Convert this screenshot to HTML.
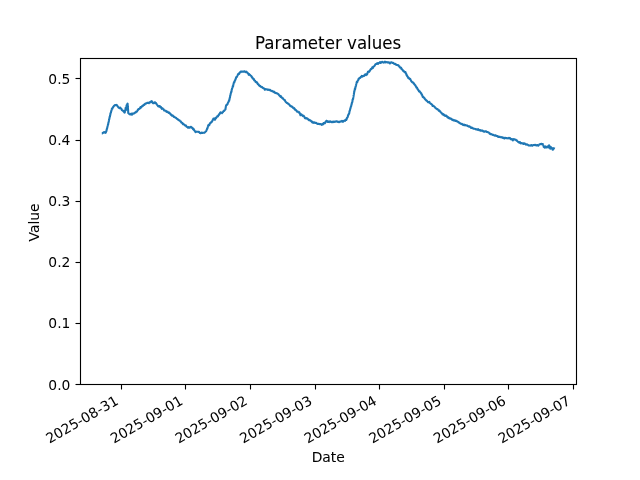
<!DOCTYPE html>
<html lang="en">
<head>
<meta charset="utf-8">
<title>Parameter values</title>
<style>
html,body{margin:0;padding:0;background:#fff;}
body{width:640px;height:480px;overflow:hidden;}
svg{display:block;}
text{font-family:'DejaVu Sans', 'Liberation Sans', sans-serif;fill:#000;stroke:#000;stroke-width:0.06px;}
.t10{font-size:13.889px;}
.t12{font-size:16.667px;}
.xt{stroke-width:0.022px;}
.yt{stroke:none;}
.ax{stroke:#000;stroke-width:1.111;fill:none;}
</style>
</head>
<body>
<svg width="640" height="480" viewBox="0 0 640 480">
<rect x="0" y="0" width="640" height="480" fill="#ffffff"/>
<g id="xticks">
<line class="ax" x1="121.5" y1="384.5" x2="121.5" y2="389.5"/>
<text class="t10 xt" transform="translate(49.45 443.82) rotate(-30)">2025-08-31</text>
<line class="ax" x1="185.5" y1="384.5" x2="185.5" y2="389.5"/>
<text class="t10 xt" transform="translate(114.05 443.82) rotate(-30)">2025-09-01</text>
<line class="ax" x1="250.5" y1="384.5" x2="250.5" y2="389.5"/>
<text class="t10 xt" transform="translate(178.65 443.82) rotate(-30)">2025-09-02</text>
<line class="ax" x1="315.5" y1="384.5" x2="315.5" y2="389.5"/>
<text class="t10 xt" transform="translate(243.25 443.82) rotate(-30)">2025-09-03</text>
<line class="ax" x1="379.5" y1="384.5" x2="379.5" y2="389.5"/>
<text class="t10 xt" transform="translate(307.85 443.82) rotate(-30)">2025-09-04</text>
<line class="ax" x1="444.5" y1="384.5" x2="444.5" y2="389.5"/>
<text class="t10 xt" transform="translate(372.45 443.82) rotate(-30)">2025-09-05</text>
<line class="ax" x1="508.5" y1="384.5" x2="508.5" y2="389.5"/>
<text class="t10 xt" transform="translate(437.05 443.82) rotate(-30)">2025-09-06</text>
<line class="ax" x1="573.5" y1="384.5" x2="573.5" y2="389.5"/>
<text class="t10 xt" transform="translate(501.65 443.82) rotate(-30)">2025-09-07</text>
</g>
<g id="yticks">
<line class="ax" x1="75.5" y1="384.5" x2="80.5" y2="384.5"/>
<text class="t10 yt" text-anchor="end" x="70.43" y="390">0.0</text>
<line class="ax" x1="75.5" y1="323.5" x2="80.5" y2="323.5"/>
<text class="t10 yt" text-anchor="end" x="70.43" y="328">0.1</text>
<line class="ax" x1="75.5" y1="262.5" x2="80.5" y2="262.5"/>
<text class="t10 yt" text-anchor="end" x="70.43" y="267">0.2</text>
<line class="ax" x1="75.5" y1="201.5" x2="80.5" y2="201.5"/>
<text class="t10 yt" text-anchor="end" x="70.43" y="206">0.3</text>
<line class="ax" x1="75.5" y1="140.5" x2="80.5" y2="140.5"/>
<text class="t10 yt" text-anchor="end" x="70.43" y="145">0.4</text>
<line class="ax" x1="75.5" y1="78.5" x2="80.5" y2="78.5"/>
<text class="t10 yt" text-anchor="end" x="70.43" y="84">0.5</text>
</g>
<path id="series" d="M101.80 133.50 L102.10 133.49 L102.39 133.26 L102.69 133.03 L102.91 132.80 L103.13 132.65 L103.35 132.81 L103.56 132.82 L103.78 132.29 L103.99 131.95 L104.20 131.99 L104.44 132.25 L104.68 132.21 L104.92 132.21 L105.16 132.59 L105.39 132.82 L105.62 132.69 L105.82 132.56 L105.91 132.09 L105.99 131.71 L106.08 131.56 L106.17 131.48 L106.25 131.33 L106.34 131.29 L106.43 131.12 L106.51 130.44 L106.60 129.77 L106.67 129.74 L106.74 129.85 L106.80 129.45 L106.87 128.90 L106.94 128.60 L107.01 128.33 L107.07 128.26 L107.14 128.22 L107.21 127.79 L107.28 127.58 L107.34 127.43 L107.41 126.94 L107.48 126.61 L107.55 126.43 L107.62 125.99 L107.68 125.53 L107.75 125.57 L107.82 125.40 L107.89 124.84 L107.96 124.69 L108.03 124.42 L108.10 124.18 L108.17 124.30 L108.24 123.78 L108.31 123.00 L108.38 122.84 L108.44 122.74 L108.51 122.43 L108.58 122.17 L108.65 121.89 L108.72 121.78 L108.78 121.51 L108.85 120.89 L108.92 120.47 L108.99 120.20 L109.06 119.80 L109.12 119.33 L109.19 119.07 L109.26 119.09 L109.33 119.16 L109.40 118.76 L109.46 117.94 L109.53 117.65 L109.60 117.45 L109.67 116.87 L109.73 116.68 L109.80 116.84 L109.87 116.87 L109.94 116.47 L110.00 115.85 L110.07 115.43 L110.14 115.39 L110.20 115.31 L110.27 114.77 L110.35 114.34 L110.42 114.17 L110.50 113.84 L110.57 113.35 L110.65 112.96 L110.73 112.78 L110.80 112.72 L110.88 112.72 L110.96 112.42 L111.03 111.98 L111.11 111.65 L111.19 111.37 L111.27 111.17 L111.38 110.88 L111.49 110.38 L111.61 109.91 L111.72 109.55 L111.83 108.92 L111.94 108.51 L112.06 108.55 L112.17 108.48 L112.28 108.66 L112.43 108.67 L112.59 107.93 L112.74 107.44 L112.90 107.45 L113.06 107.29 L113.21 106.90 L113.37 106.67 L113.57 106.65 L113.78 106.31 L113.99 105.80 L114.21 105.65 L114.42 105.45 L114.67 105.20 L114.95 105.13 L115.22 105.13 L115.50 105.23 L115.77 105.14 L116.02 104.98 L116.25 105.05 L116.48 105.04 L116.71 104.93 L116.93 105.29 L117.16 105.66 L117.38 105.80 L117.58 106.13 L117.78 106.39 L117.98 106.72 L118.18 107.06 L118.39 107.41 L118.59 107.46 L118.81 107.49 L119.11 108.00 L119.41 108.21 L119.71 107.83 L120.01 107.60 L120.27 107.59 L120.45 107.89 L120.63 108.35 L120.82 108.49 L121.00 108.55 L121.19 108.68 L121.37 108.79 L121.56 109.20 L121.76 109.80 L121.96 110.13 L122.17 110.33 L122.38 110.36 L122.58 110.32 L122.79 110.51 L122.99 110.79 L123.20 111.07 L123.41 111.28 L123.62 111.32 L123.83 111.34 L124.04 111.87 L124.26 112.49 L124.47 112.37 L124.68 112.37 L124.75 112.56 L124.81 112.35 L124.86 111.63 L124.92 111.23 L124.98 110.84 L125.03 110.53 L125.09 110.62 L125.15 110.47 L125.20 110.00 L125.26 109.66 L125.32 109.44 L125.37 109.09 L125.43 108.65 L125.48 108.15 L125.54 108.03 L125.60 108.13 L125.64 108.36 L125.68 108.59 L125.71 108.85 L125.75 109.00 L125.79 109.37 L125.83 109.83 L125.87 110.05 L125.91 110.16 L125.95 110.07 L125.99 110.03 L126.03 109.71 L126.07 109.16 L126.11 108.48 L126.16 108.15 L126.20 108.34 L126.24 108.20 L126.28 107.71 L126.32 107.48 L126.36 107.34 L126.40 107.09 L126.44 106.65 L126.48 106.27 L126.52 105.94 L126.57 105.46 L126.61 105.30 L126.65 105.23 L126.69 105.11 L126.89 105.17 L127.15 104.72 L127.41 103.79 L127.61 103.61 L127.63 104.25 L127.65 104.53 L127.68 104.95 L127.70 105.28 L127.72 105.00 L127.75 105.17 L127.77 105.98 L127.79 106.49 L127.82 106.72 L127.84 106.94 L127.86 106.97 L127.89 107.16 L127.91 107.61 L127.93 107.79 L127.96 108.09 L127.98 108.78 L128.00 109.27 L128.03 109.44 L128.05 109.48 L128.07 109.65 L128.09 109.92 L128.11 110.34 L128.13 110.80 L128.15 111.13 L128.17 111.60 L128.19 112.25 L128.21 112.54 L128.23 112.48 L128.26 112.80 L128.28 113.15 L128.30 113.16 L128.53 113.08 L128.80 113.43 L129.08 113.88 L129.35 113.98 L129.62 113.99 L129.89 114.23 L130.16 114.53 L130.43 114.28 L130.70 113.90 L130.96 113.98 L131.23 113.82 L131.49 113.69 L131.71 114.25 L131.94 114.71 L132.17 114.27 L132.40 113.64 L132.62 113.61 L132.86 113.86 L133.14 113.74 L133.41 113.46 L133.69 113.32 L133.97 113.31 L134.24 113.36 L134.52 113.23 L134.79 112.84 L135.07 112.56 L135.35 112.52 L135.62 112.51 L135.82 112.29 L136.02 111.84 L136.23 111.63 L136.43 111.41 L136.63 111.26 L136.84 111.61 L137.04 111.47 L137.24 110.89 L137.45 110.68 L137.65 110.14 L137.85 109.48 L138.06 109.57 L138.28 109.66 L138.49 109.30 L138.71 108.92 L138.93 108.79 L139.14 108.88 L139.36 108.92 L139.58 108.62 L139.80 108.42 L140.01 108.29 L140.23 107.77 L140.45 107.17 L140.68 107.06 L140.91 107.47 L141.14 107.54 L141.36 107.23 L141.59 106.89 L141.82 106.54 L142.05 106.24 L142.28 105.94 L142.50 105.74 L142.73 105.80 L142.96 105.88 L143.20 105.56 L143.45 105.06 L143.70 104.68 L143.95 104.72 L144.21 104.98 L144.46 104.77 L144.71 104.30 L144.96 103.88 L145.21 103.61 L145.47 103.73 L145.72 103.78 L145.98 103.46 L146.27 103.27 L146.57 103.27 L146.86 103.06 L147.15 102.77 L147.44 102.75 L147.73 102.92 L148.02 103.00 L148.31 102.90 L148.60 103.08 L148.88 103.15 L149.15 102.64 L149.42 102.30 L149.69 102.31 L149.96 102.10 L150.23 101.88 L150.50 102.19 L150.77 102.34 L151.04 101.84 L151.31 101.33 L151.58 101.16 L151.80 101.38 L152.02 101.38 L152.24 101.72 L152.46 102.27 L152.68 102.47 L152.90 102.96 L153.16 103.25 L153.46 103.01 L153.76 103.09 L154.06 103.19 L154.36 102.76 L154.66 102.28 L154.96 102.20 L155.26 102.63 L155.47 103.30 L155.66 103.34 L155.85 103.04 L156.04 103.09 L156.24 103.52 L156.43 103.94 L156.62 104.20 L156.81 104.48 L157.00 104.71 L157.20 104.83 L157.39 105.08 L157.58 105.37 L157.77 105.64 L158.02 106.08 L158.28 106.49 L158.54 106.42 L158.80 106.05 L159.07 105.95 L159.33 106.11 L159.59 106.00 L159.85 106.27 L160.11 107.05 L160.37 107.34 L160.63 107.05 L160.86 106.91 L161.10 107.19 L161.33 107.64 L161.57 108.32 L161.80 108.83 L162.04 108.57 L162.28 108.20 L162.51 108.30 L162.75 108.70 L162.98 108.88 L163.22 108.96 L163.46 109.18 L163.69 109.49 L163.93 110.08 L164.17 110.54 L164.41 110.53 L164.64 110.44 L164.88 110.60 L165.12 110.71 L165.36 110.75 L165.59 110.79 L165.83 110.72 L166.07 111.03 L166.32 111.62 L166.59 111.82 L166.87 112.02 L167.14 112.04 L167.42 111.68 L167.70 111.81 L167.97 112.32 L168.25 112.52 L168.53 112.64 L168.80 112.91 L169.08 112.82 L169.31 112.58 L169.54 112.89 L169.76 113.52 L169.99 113.55 L170.22 113.52 L170.44 114.14 L170.67 114.66 L170.90 114.73 L171.12 114.59 L171.35 114.49 L171.58 114.94 L171.82 115.61 L172.05 115.79 L172.29 115.80 L172.52 115.74 L172.76 115.62 L173.00 115.61 L173.23 116.06 L173.47 116.47 L173.70 116.56 L173.94 116.96 L174.17 117.07 L174.41 116.89 L174.64 117.04 L174.89 117.34 L175.14 117.56 L175.39 117.62 L175.63 117.72 L175.88 117.89 L176.13 117.91 L176.38 118.08 L176.63 118.64 L176.88 118.90 L177.12 118.77 L177.37 118.94 L177.63 119.08 L177.89 119.30 L178.15 119.69 L178.41 119.98 L178.67 120.18 L178.93 120.15 L179.19 120.23 L179.46 120.30 L179.72 120.41 L179.93 120.79 L180.13 121.09 L180.33 121.33 L180.53 121.36 L180.73 121.36 L180.92 121.72 L181.12 122.23 L181.32 122.47 L181.52 122.44 L181.72 122.44 L181.91 122.65 L182.11 123.04 L182.31 123.04 L182.51 123.08 L182.71 123.80 L182.96 124.16 L183.20 123.86 L183.45 123.85 L183.70 124.12 L183.94 124.42 L184.19 124.78 L184.44 124.85 L184.69 125.05 L184.93 125.40 L185.18 125.54 L185.43 125.67 L185.68 125.60 L185.92 125.45 L186.18 125.89 L186.44 126.62 L186.70 126.76 L186.95 126.75 L187.21 126.93 L187.47 127.08 L187.73 127.46 L187.98 127.70 L188.24 127.28 L188.50 127.00 L188.76 127.18 L189.05 127.36 L189.35 127.80 L189.64 127.79 L189.93 127.23 L190.23 126.97 L190.52 127.33 L190.81 127.31 L191.10 126.83 L191.34 127.13 L191.58 127.59 L191.82 127.84 L192.06 127.85 L192.30 127.81 L192.54 127.85 L192.77 128.32 L193.01 129.09 L193.19 129.33 L193.37 129.13 L193.56 128.97 L193.74 129.08 L193.92 129.61 L194.10 130.12 L194.29 130.39 L194.47 130.49 L194.65 130.60 L194.85 130.96 L195.12 131.40 L195.39 131.94 L195.66 132.13 L195.94 131.74 L196.21 131.55 L196.48 131.70 L196.75 131.74 L197.05 131.68 L197.35 131.67 L197.65 131.68 L197.94 131.84 L198.24 131.88 L198.54 131.79 L198.77 131.81 L198.98 131.80 L199.20 131.97 L199.41 132.29 L199.63 132.61 L199.84 132.95 L200.06 133.03 L200.27 133.04 L200.49 133.26 L200.77 133.10 L201.06 133.05 L201.34 132.90 L201.62 132.67 L201.91 132.91 L202.19 133.07 L202.49 132.93 L202.79 132.83 L203.09 132.73 L203.39 132.67 L203.69 132.74 L203.99 132.84 L204.26 132.74 L204.48 132.47 L204.70 132.45 L204.92 132.37 L205.14 132.04 L205.35 131.85 L205.57 131.58 L205.79 131.20 L206.01 131.23 L206.17 131.20 L206.29 130.92 L206.41 130.55 L206.53 130.07 L206.66 129.88 L206.78 129.86 L206.90 129.61 L207.01 129.04 L207.12 128.55 L207.23 128.65 L207.34 128.78 L207.45 128.44 L207.56 127.71 L207.67 127.20 L207.78 127.19 L207.89 126.65 L208.00 126.00 L208.11 125.92 L208.22 125.56 L208.33 125.17 L208.47 125.35 L208.66 125.47 L208.84 125.14 L209.03 125.04 L209.21 125.24 L209.40 124.94 L209.58 124.24 L209.77 123.62 L209.95 123.18 L210.14 123.10 L210.32 123.22 L210.51 123.08 L210.70 122.89 L210.90 122.63 L211.10 122.16 L211.30 121.99 L211.49 122.04 L211.69 121.93 L211.89 121.73 L212.09 121.30 L212.29 120.90 L212.49 120.58 L212.68 120.02 L212.85 119.72 L212.97 119.84 L213.09 119.73 L213.20 119.21 L213.32 118.65 L213.49 118.56 L213.77 118.75 L214.04 118.60 L214.32 118.58 L214.59 119.16 L214.87 119.77 L215.07 119.60 L215.21 119.09 L215.35 118.95 L215.49 118.50 L215.63 117.78 L215.76 117.82 L215.90 118.07 L216.04 118.06 L216.18 117.99 L216.36 117.64 L216.59 117.17 L216.82 116.93 L217.04 116.68 L217.27 116.28 L217.50 116.16 L217.72 116.40 L217.95 116.32 L218.16 115.72 L218.35 115.28 L218.53 115.26 L218.72 115.17 L218.91 114.92 L219.09 114.59 L219.28 114.02 L219.46 113.67 L219.65 113.66 L219.83 113.70 L220.02 113.33 L220.20 112.56 L220.44 112.42 L220.74 112.69 L221.04 112.48 L221.34 112.46 L221.64 112.93 L221.93 113.09 L222.16 112.71 L222.39 112.46 L222.62 112.36 L222.85 112.21 L223.08 111.94 L223.31 111.42 L223.54 111.12 L223.77 111.08 L223.96 110.93 L224.15 110.88 L224.35 110.57 L224.54 110.12 L224.73 109.94 L224.92 109.88 L225.12 109.73 L225.30 109.29 L225.36 109.05 L225.42 109.33 L225.47 109.47 L225.53 109.00 L225.58 108.21 L225.64 107.87 L225.70 107.72 L225.75 107.07 L225.81 106.48 L225.86 106.40 L225.96 106.19 L226.14 105.56 L226.32 104.98 L226.50 104.95 L226.68 105.09 L226.86 104.83 L227.04 104.61 L227.22 104.59 L227.40 104.38 L227.55 104.04 L227.68 103.68 L227.80 103.23 L227.93 102.83 L228.05 102.73 L228.18 102.77 L228.30 102.39 L228.43 101.84 L228.55 101.59 L228.68 101.52 L228.80 101.20 L228.93 100.54 L229.05 100.20 L229.14 100.52 L229.21 100.85 L229.27 100.39 L229.34 99.73 L229.40 99.68 L229.47 99.54 L229.53 98.82 L229.60 98.41 L229.67 98.41 L229.73 98.15 L229.80 97.67 L229.86 97.40 L229.93 97.55 L230.00 97.37 L230.07 96.78 L230.15 96.03 L230.23 95.40 L230.31 95.34 L230.39 95.26 L230.47 95.05 L230.54 94.78 L230.62 94.09 L230.70 93.59 L230.78 93.51 L230.86 93.25 L230.94 92.89 L231.02 92.62 L231.09 92.11 L231.17 91.80 L231.25 92.03 L231.33 92.06 L231.41 91.97 L231.49 91.76 L231.57 90.86 L231.65 89.97 L231.72 89.64 L231.80 89.48 L231.88 89.40 L231.96 89.09 L232.05 88.64 L232.13 88.45 L232.21 88.22 L232.30 88.10 L232.38 87.91 L232.46 87.55 L232.55 87.24 L232.63 86.85 L232.71 86.35 L232.80 85.99 L232.88 86.22 L232.96 86.64 L233.05 86.54 L233.13 86.02 L233.21 85.32 L233.30 84.87 L233.38 84.76 L233.46 84.35 L233.55 83.84 L233.63 83.55 L233.71 83.26 L233.82 82.94 L233.94 82.56 L234.06 82.17 L234.18 82.28 L234.30 82.47 L234.42 81.92 L234.54 81.40 L234.66 81.32 L234.78 80.96 L234.90 80.36 L235.02 80.22 L235.14 80.27 L235.26 79.95 L235.38 79.74 L235.50 79.53 L235.62 78.96 L235.74 78.52 L235.86 78.45 L235.99 78.17 L236.11 77.44 L236.23 77.07 L236.38 77.16 L236.55 77.23 L236.72 77.21 L236.88 76.78 L237.05 76.17 L237.22 76.01 L237.38 75.74 L237.55 75.42 L237.71 75.24 L237.88 74.63 L238.05 74.11 L238.21 74.01 L238.38 73.80 L238.55 73.75 L238.71 73.86 L238.93 73.93 L239.17 73.84 L239.41 73.19 L239.64 72.54 L239.88 72.37 L240.12 72.20 L240.35 72.13 L240.59 72.19 L240.83 71.77 L241.06 71.45 L241.31 71.69 L241.60 71.81 L241.89 71.71 L242.18 71.69 L242.46 71.63 L242.75 71.62 L243.04 71.68 L243.34 71.69 L243.63 71.64 L243.92 71.47 L244.22 71.22 L244.51 71.37 L244.79 71.67 L245.08 71.66 L245.36 71.80 L245.65 72.25 L245.93 72.17 L246.22 71.67 L246.51 71.65 L246.79 72.07 L247.04 72.38 L247.26 72.54 L247.48 72.78 L247.71 73.05 L247.93 73.30 L248.15 73.41 L248.37 73.75 L248.60 74.50 L248.82 74.78 L249.04 74.35 L249.26 74.18 L249.49 74.56 L249.71 74.88 L249.93 74.89 L250.14 75.08 L250.34 75.39 L250.54 75.43 L250.74 75.60 L250.94 75.74 L251.14 75.70 L251.34 76.01 L251.54 76.65 L251.74 77.11 L251.94 77.12 L252.14 77.06 L252.34 77.58 L252.54 78.26 L252.74 78.50 L252.94 78.43 L253.14 78.56 L253.34 78.91 L253.54 78.95 L253.74 78.91 L253.94 79.44 L254.15 80.12 L254.35 80.43 L254.56 80.52 L254.76 80.62 L254.97 80.80 L255.17 80.86 L255.38 81.33 L255.58 82.06 L255.79 82.02 L255.99 81.75 L256.20 81.97 L256.40 82.45 L256.61 82.73 L256.81 82.48 L257.02 82.35 L257.22 82.82 L257.43 83.31 L257.64 83.73 L257.86 84.13 L258.07 84.30 L258.29 84.27 L258.50 84.30 L258.72 84.93 L258.93 85.53 L259.15 85.49 L259.37 85.39 L259.58 85.71 L259.80 85.98 L260.01 85.81 L260.23 85.95 L260.44 86.44 L260.67 86.64 L260.92 86.63 L261.17 86.77 L261.42 86.93 L261.67 87.09 L261.92 87.11 L262.17 87.14 L262.42 87.57 L262.67 87.87 L262.91 87.78 L263.16 88.01 L263.41 88.28 L263.66 88.28 L263.94 88.32 L264.23 88.51 L264.52 89.13 L264.82 89.74 L265.11 89.60 L265.40 89.19 L265.69 89.14 L265.98 89.17 L266.27 89.34 L266.57 89.41 L266.86 89.24 L267.15 89.41 L267.44 89.69 L267.73 89.85 L268.01 89.71 L268.30 89.54 L268.59 89.83 L268.87 90.06 L269.16 90.09 L269.44 90.08 L269.73 89.77 L270.01 89.71 L270.30 90.34 L270.59 90.70 L270.87 90.61 L271.16 90.74 L271.43 90.90 L271.70 90.75 L271.97 90.70 L272.23 91.11 L272.50 91.34 L272.77 91.32 L273.04 91.55 L273.30 91.49 L273.57 91.58 L273.84 92.08 L274.11 92.02 L274.37 91.80 L274.64 92.18 L274.91 92.80 L275.18 92.96 L275.44 92.82 L275.71 93.00 L275.98 93.15 L276.25 93.10 L276.51 93.27 L276.78 93.37 L277.05 93.34 L277.32 93.49 L277.59 93.77 L277.85 93.89 L278.12 93.89 L278.39 94.18 L278.66 94.61 L278.89 94.84 L279.10 95.15 L279.32 95.45 L279.53 95.76 L279.74 95.92 L279.96 95.77 L280.17 95.86 L280.38 96.27 L280.60 96.87 L280.81 96.85 L281.02 96.24 L281.24 96.45 L281.45 97.21 L281.66 97.65 L281.88 97.76 L282.09 97.83 L282.31 98.10 L282.52 98.33 L282.72 98.53 L282.92 98.53 L283.13 98.42 L283.33 98.75 L283.53 99.17 L283.73 99.53 L283.94 99.62 L284.14 99.68 L284.34 99.98 L284.54 100.03 L284.75 100.01 L284.95 100.26 L285.15 100.85 L285.35 101.47 L285.55 101.74 L285.76 101.89 L285.96 102.13 L286.16 102.23 L286.38 102.36 L286.62 102.76 L286.85 102.98 L287.09 102.89 L287.32 102.93 L287.55 103.18 L287.79 103.32 L288.02 103.53 L288.26 103.90 L288.49 104.08 L288.73 104.14 L288.96 104.26 L289.19 104.59 L289.43 104.83 L289.66 105.13 L289.90 105.62 L290.12 105.89 L290.35 106.13 L290.57 106.10 L290.79 105.82 L291.01 105.99 L291.24 106.39 L291.46 106.60 L291.68 106.71 L291.90 106.63 L292.12 106.60 L292.35 106.76 L292.57 106.99 L292.79 107.45 L293.01 107.70 L293.24 107.83 L293.46 108.22 L293.68 108.40 L293.91 108.18 L294.15 108.15 L294.39 108.34 L294.62 108.50 L294.86 109.16 L295.10 109.79 L295.34 109.84 L295.57 109.87 L295.81 109.97 L296.05 110.24 L296.29 110.51 L296.52 110.76 L296.76 111.29 L297.00 111.65 L297.24 111.58 L297.47 111.41 L297.73 111.48 L297.99 111.78 L298.25 112.05 L298.51 112.26 L298.77 112.55 L299.03 112.57 L299.29 112.22 L299.47 112.54 L299.59 113.17 L299.71 113.23 L299.83 113.30 L299.96 113.51 L300.08 113.76 L300.20 114.56 L300.49 115.23 L300.79 114.97 L301.08 114.32 L301.35 114.27 L301.59 114.78 L301.83 115.15 L302.07 115.06 L302.30 115.25 L302.54 115.84 L302.78 116.07 L303.02 115.84 L303.25 115.62 L303.49 115.71 L303.73 115.86 L303.96 116.14 L304.20 116.71 L304.44 117.06 L304.68 117.53 L304.91 118.12 L305.16 117.99 L305.41 117.73 L305.67 118.15 L305.92 118.40 L306.17 118.09 L306.42 118.06 L306.68 118.22 L306.93 118.50 L307.18 118.76 L307.43 118.50 L307.69 118.60 L307.94 119.14 L308.19 119.47 L308.45 119.75 L308.70 119.93 L308.96 120.13 L309.23 120.13 L309.50 119.88 L309.77 120.05 L310.03 120.39 L310.30 120.66 L310.57 120.78 L310.84 120.67 L311.10 120.92 L311.37 121.39 L311.64 121.47 L311.91 121.63 L312.17 122.36 L312.44 122.43 L312.72 121.85 L313.00 122.21 L313.27 122.88 L313.55 122.77 L313.83 122.46 L314.11 122.35 L314.39 122.37 L314.67 122.47 L314.95 122.71 L315.22 122.96 L315.50 122.94 L315.78 122.80 L316.06 122.86 L316.34 123.04 L316.64 123.13 L316.93 123.42 L317.22 123.80 L317.52 123.86 L317.81 123.85 L318.10 123.86 L318.40 123.80 L318.69 123.76 L318.98 123.89 L319.28 123.96 L319.57 124.00 L319.86 124.28 L320.15 124.24 L320.44 124.00 L320.72 124.05 L321.00 124.24 L321.29 124.41 L321.57 124.63 L321.85 124.84 L322.14 124.50 L322.39 124.04 L322.59 123.86 L322.80 123.77 L323.01 124.03 L323.22 124.29 L323.42 123.85 L323.63 123.15 L323.84 123.15 L324.05 123.47 L324.25 123.16 L324.46 122.82 L324.69 123.03 L324.93 123.19 L325.17 122.75 L325.41 122.15 L325.65 121.91 L325.89 121.67 L326.13 121.15 L326.36 120.84 L326.60 120.76 L326.89 120.86 L327.17 121.07 L327.45 121.61 L327.74 121.89 L328.02 121.56 L328.30 121.43 L328.59 121.69 L328.87 122.01 L329.17 122.09 L329.46 121.77 L329.76 121.42 L330.06 121.29 L330.36 121.59 L330.66 122.02 L330.96 121.98 L331.25 121.76 L331.55 121.88 L331.85 122.15 L332.15 122.22 L332.45 122.08 L332.74 121.80 L333.04 121.49 L333.34 121.77 L333.64 122.04 L333.93 121.62 L334.23 121.63 L334.53 121.89 L334.83 121.72 L335.12 121.59 L335.42 121.69 L335.72 121.75 L336.01 121.47 L336.31 121.19 L336.61 121.30 L336.91 121.36 L337.21 121.43 L337.51 121.70 L337.81 121.92 L338.11 121.85 L338.41 121.69 L338.71 121.89 L339.01 122.11 L339.31 122.15 L339.61 122.00 L339.91 121.62 L340.21 121.54 L340.51 121.51 L340.81 121.28 L341.11 121.31 L341.41 121.35 L341.71 121.12 L342.01 120.90 L342.31 121.05 L342.61 121.49 L342.91 121.85 L343.19 121.79 L343.43 121.34 L343.67 120.92 L343.91 120.72 L344.16 120.70 L344.40 120.62 L344.64 120.72 L344.92 120.83 L345.22 120.36 L345.51 119.87 L345.81 119.79 L346.04 119.67 L346.16 119.70 L346.28 119.95 L346.39 119.50 L346.51 118.92 L346.63 119.05 L346.74 118.99 L346.86 118.34 L346.98 117.82 L347.09 117.67 L347.21 117.64 L347.32 117.60 L347.44 117.51 L347.56 117.31 L347.68 117.05 L347.80 116.73 L347.92 116.02 L348.04 115.28 L348.16 115.14 L348.29 115.07 L348.41 114.84 L348.53 114.64 L348.65 114.14 L348.77 113.86 L348.90 114.02 L349.02 113.79 L349.14 113.39 L349.24 113.25 L349.32 112.99 L349.39 112.18 L349.47 111.32 L349.55 111.16 L349.63 111.08 L349.70 110.83 L349.78 110.90 L349.86 110.80 L349.94 110.13 L350.02 109.86 L350.09 109.98 L350.17 109.36 L350.25 108.75 L350.33 108.76 L350.40 108.56 L350.48 108.19 L350.56 107.98 L350.64 107.50 L350.71 107.08 L350.79 107.09 L350.87 106.91 L350.95 106.46 L351.03 106.18 L351.11 106.28 L351.19 106.23 L351.26 105.68 L351.34 105.29 L351.42 104.89 L351.50 104.51 L351.58 104.44 L351.66 104.35 L351.73 104.06 L351.81 103.46 L351.89 102.83 L351.97 102.57 L352.05 102.56 L352.13 102.53 L352.21 102.33 L352.28 101.98 L352.36 101.78 L352.43 101.52 L352.50 100.73 L352.58 99.89 L352.65 99.43 L352.72 99.50 L352.79 99.63 L352.87 99.37 L352.94 99.22 L353.01 99.17 L353.09 98.99 L353.16 98.52 L353.23 97.85 L353.30 97.43 L353.35 97.21 L353.41 96.88 L353.46 96.48 L353.51 96.43 L353.56 96.19 L353.61 95.52 L353.66 95.15 L353.71 94.95 L353.76 94.86 L353.82 94.76 L353.87 94.42 L353.92 93.92 L353.97 93.48 L354.02 93.35 L354.07 93.12 L354.12 92.86 L354.17 92.26 L354.23 91.44 L354.28 91.38 L354.33 91.73 L354.38 91.73 L354.43 91.28 L354.48 90.61 L354.53 90.25 L354.58 90.51 L354.66 90.45 L354.75 89.72 L354.83 88.97 L354.92 88.62 L355.01 89.02 L355.09 89.25 L355.18 88.76 L355.27 88.27 L355.35 87.68 L355.44 87.21 L355.53 86.99 L355.62 86.47 L355.70 86.18 L355.79 86.23 L355.88 86.10 L355.96 85.76 L356.05 85.26 L356.14 84.62 L356.22 84.22 L356.31 84.11 L356.40 83.72 L356.48 83.19 L356.57 82.94 L356.66 82.68 L356.74 82.21 L356.83 81.84 L356.93 81.78 L357.07 81.97 L357.22 82.20 L357.36 81.92 L357.50 81.08 L357.65 80.78 L357.79 80.88 L357.93 80.52 L358.08 80.34 L358.22 80.32 L358.36 79.69 L358.51 78.94 L358.65 78.74 L358.82 78.89 L359.04 78.68 L359.27 78.10 L359.49 77.98 L359.71 78.22 L359.93 78.07 L360.16 77.72 L360.38 77.68 L360.60 77.33 L360.83 76.71 L361.05 76.68 L361.28 76.73 L361.55 76.25 L361.82 75.84 L362.10 76.11 L362.37 76.59 L362.64 76.33 L362.91 75.96 L363.19 76.10 L363.46 75.90 L363.73 75.86 L364.00 76.04 L364.28 75.78 L364.54 75.23 L364.80 74.87 L365.05 74.83 L365.31 74.33 L365.57 74.23 L365.83 74.93 L366.08 75.06 L366.34 74.57 L366.60 74.17 L366.85 74.28 L367.06 74.40 L367.26 73.98 L367.46 73.20 L367.66 72.61 L367.86 72.24 L368.06 71.70 L368.26 71.57 L368.46 71.72 L368.66 71.56 L368.85 71.41 L369.05 71.57 L369.25 71.78 L369.45 71.49 L369.65 71.00 L369.85 70.67 L370.05 70.16 L370.25 69.96 L370.45 69.83 L370.65 69.35 L370.86 68.96 L371.06 68.78 L371.26 68.99 L371.46 69.03 L371.67 68.52 L371.87 68.10 L372.07 67.69 L372.27 67.25 L372.47 67.31 L372.68 67.88 L372.88 67.99 L373.08 67.25 L373.31 66.69 L373.53 66.57 L373.76 66.44 L373.99 66.34 L374.22 66.15 L374.44 65.93 L374.67 65.67 L374.90 65.24 L375.13 64.77 L375.36 64.42 L375.58 64.26 L375.81 64.14 L376.04 64.04 L376.27 63.94 L376.54 64.02 L376.80 63.87 L377.07 63.38 L377.34 63.14 L377.61 63.26 L377.87 63.66 L378.14 63.87 L378.41 63.49 L378.68 63.17 L378.94 62.97 L379.21 62.69 L379.49 62.69 L379.79 62.22 L380.08 62.06 L380.38 62.99 L380.68 63.03 L380.97 62.35 L381.27 62.23 L381.57 62.29 L381.87 62.08 L382.16 61.78 L382.46 61.89 L382.76 62.21 L383.06 62.37 L383.35 62.46 L383.65 62.61 L383.95 62.68 L384.25 62.34 L384.55 61.95 L384.85 61.63 L385.15 61.87 L385.45 62.34 L385.75 62.31 L386.05 62.34 L386.35 62.28 L386.64 62.06 L386.94 62.12 L387.24 62.18 L387.54 62.34 L387.84 62.66 L388.14 62.65 L388.44 62.30 L388.74 62.23 L389.04 62.46 L389.34 62.67 L389.64 63.13 L389.94 63.47 L390.24 63.13 L390.54 62.67 L390.83 62.48 L391.13 62.34 L391.43 62.28 L391.72 62.37 L392.02 62.56 L392.31 62.83 L392.61 63.03 L392.90 62.96 L393.20 62.79 L393.50 62.97 L393.79 63.47 L394.09 63.76 L394.38 63.87 L394.65 64.00 L394.91 63.97 L395.18 63.88 L395.44 64.30 L395.71 64.57 L395.97 64.27 L396.24 64.59 L396.50 65.00 L396.77 64.93 L397.03 65.06 L397.30 65.13 L397.56 64.99 L397.79 65.04 L398.02 65.06 L398.26 65.14 L398.49 65.43 L398.72 65.79 L398.96 66.15 L399.19 66.22 L399.42 66.40 L399.66 67.12 L399.89 67.48 L400.12 67.31 L400.36 67.19 L400.59 67.39 L400.78 67.81 L400.97 67.82 L401.16 67.81 L401.35 68.68 L401.53 69.17 L401.72 68.82 L401.91 69.09 L402.10 69.47 L402.29 69.69 L402.48 69.91 L402.66 69.85 L402.85 70.27 L403.04 70.80 L403.25 70.73 L403.46 70.74 L403.67 70.99 L403.88 71.38 L404.09 71.72 L404.31 71.79 L404.52 71.86 L404.73 72.01 L404.94 72.34 L405.16 72.28 L405.37 72.08 L405.58 72.50 L405.73 72.90 L405.88 73.44 L406.03 73.95 L406.18 73.79 L406.33 74.04 L406.47 74.79 L406.62 75.22 L406.77 75.52 L406.92 75.49 L407.07 75.39 L407.22 75.87 L407.36 76.54 L407.51 76.77 L407.66 76.76 L407.81 76.89 L407.96 77.05 L408.11 77.49 L408.32 78.05 L408.53 77.94 L408.74 77.69 L408.96 78.08 L409.17 78.68 L409.38 78.92 L409.59 78.85 L409.80 78.92 L410.02 79.02 L410.23 78.93 L410.44 79.29 L410.65 79.93 L410.84 80.22 L411.02 80.62 L411.21 81.11 L411.40 81.22 L411.59 81.49 L411.78 82.00 L411.97 82.00 L412.15 81.92 L412.34 82.26 L412.53 82.38 L412.72 82.37 L412.91 82.65 L413.10 82.70 L413.29 82.66 L413.49 83.10 L413.69 83.51 L413.89 83.52 L414.09 83.58 L414.29 84.03 L414.49 84.52 L414.69 84.66 L414.89 84.81 L415.09 85.09 L415.29 85.19 L415.49 85.63 L415.67 86.14 L415.81 86.11 L415.95 86.37 L416.10 86.88 L416.24 86.98 L416.38 87.14 L416.52 87.66 L416.67 87.78 L416.81 87.49 L416.95 87.66 L417.10 88.05 L417.24 88.30 L417.38 88.61 L417.54 89.05 L417.75 89.41 L417.96 89.60 L418.17 89.96 L418.37 90.23 L418.58 90.30 L418.79 90.78 L419.00 91.33 L419.21 91.28 L419.42 91.15 L419.63 91.28 L419.84 91.50 L420.04 91.99 L420.25 92.29 L420.46 92.23 L420.65 92.57 L420.80 93.04 L420.95 93.15 L421.09 93.22 L421.24 93.28 L421.39 93.48 L421.54 94.19 L421.69 94.85 L421.84 94.78 L421.98 94.68 L422.13 94.97 L422.28 95.43 L422.43 95.89 L422.58 96.37 L422.72 96.81 L422.87 97.00 L423.02 97.19 L423.19 97.34 L423.39 97.24 L423.58 97.16 L423.77 97.47 L423.97 97.86 L424.16 97.81 L424.36 97.91 L424.55 98.51 L424.75 98.79 L424.94 98.87 L425.14 99.14 L425.33 99.48 L425.52 99.66 L425.72 99.59 L425.91 99.84 L426.11 100.41 L426.32 100.67 L426.56 100.67 L426.81 100.69 L427.06 100.86 L427.31 101.35 L427.56 101.65 L427.80 101.73 L428.05 102.19 L428.30 102.35 L428.55 102.26 L428.79 102.29 L429.04 102.01 L429.29 101.89 L429.52 102.27 L429.74 102.76 L429.96 103.07 L430.19 103.31 L430.41 103.36 L430.63 103.41 L430.85 103.76 L431.07 103.90 L431.29 104.09 L431.51 104.36 L431.73 104.37 L431.95 104.48 L432.17 104.87 L432.39 105.45 L432.63 105.91 L432.88 105.94 L433.13 105.74 L433.38 105.74 L433.63 106.08 L433.88 106.26 L434.13 106.38 L434.38 106.85 L434.63 106.95 L434.88 106.97 L435.13 107.47 L435.38 107.86 L435.63 108.03 L435.87 108.18 L436.12 108.34 L436.36 108.69 L436.58 108.86 L436.80 108.92 L437.02 109.18 L437.24 109.25 L437.46 109.14 L437.68 109.16 L437.90 109.53 L438.13 109.82 L438.35 109.88 L438.57 110.28 L438.79 110.64 L439.01 110.47 L439.23 110.31 L439.45 110.82 L439.66 111.31 L439.88 111.36 L440.10 111.32 L440.31 111.41 L440.53 111.89 L440.74 112.32 L440.96 112.42 L441.17 112.46 L441.39 112.84 L441.60 113.25 L441.82 113.40 L442.04 113.35 L442.25 113.77 L442.47 114.33 L442.72 114.10 L442.99 113.96 L443.25 114.13 L443.52 114.41 L443.78 115.05 L444.05 115.29 L444.31 114.80 L444.58 114.75 L444.84 115.45 L445.11 115.89 L445.37 115.99 L445.64 115.94 L445.90 115.72 L446.16 115.65 L446.42 115.60 L446.67 115.90 L446.92 116.43 L447.17 116.84 L447.42 117.25 L447.67 117.16 L447.92 117.06 L448.17 117.60 L448.42 118.02 L448.67 117.79 L448.92 117.59 L449.17 118.05 L449.41 118.42 L449.66 118.23 L449.91 118.32 L450.18 118.75 L450.45 118.73 L450.72 118.55 L450.99 118.65 L451.27 118.90 L451.54 119.21 L451.81 119.54 L452.08 119.84 L452.35 119.72 L452.62 119.49 L452.90 119.87 L453.17 120.29 L453.44 120.44 L453.71 120.47 L453.99 120.23 L454.26 120.29 L454.54 120.58 L454.81 120.32 L455.08 120.32 L455.36 120.86 L455.63 120.99 L455.91 120.88 L456.18 120.80 L456.46 120.82 L456.73 121.09 L457.01 121.50 L457.28 121.58 L457.56 121.52 L457.82 121.83 L458.09 121.88 L458.36 122.01 L458.63 122.48 L458.90 122.47 L459.17 122.57 L459.44 123.01 L459.71 123.03 L459.98 123.10 L460.25 123.50 L460.51 123.69 L460.78 123.70 L461.05 123.75 L461.33 123.85 L461.61 123.96 L461.90 123.87 L462.18 124.11 L462.46 124.60 L462.75 124.56 L463.03 124.67 L463.32 125.03 L463.60 124.79 L463.89 124.57 L464.17 124.66 L464.46 124.76 L464.74 125.18 L465.02 125.36 L465.30 125.06 L465.58 125.05 L465.85 125.33 L466.13 125.39 L466.40 125.44 L466.68 125.49 L466.96 125.37 L467.23 125.56 L467.51 125.89 L467.78 126.11 L468.06 126.20 L468.34 126.24 L468.61 126.51 L468.89 126.60 L469.18 126.41 L469.46 126.30 L469.74 126.54 L470.03 126.87 L470.31 126.96 L470.59 127.27 L470.88 127.72 L471.16 127.99 L471.44 127.99 L471.73 127.62 L472.01 127.56 L472.29 127.98 L472.58 128.25 L472.86 128.32 L473.15 128.38 L473.43 128.58 L473.72 128.72 L474.01 128.71 L474.29 128.72 L474.58 128.75 L474.86 128.79 L475.15 128.95 L475.43 129.04 L475.72 129.13 L476.01 129.36 L476.29 129.41 L476.58 129.40 L476.87 129.33 L477.16 129.51 L477.45 129.84 L477.74 129.51 L478.03 129.15 L478.32 129.29 L478.61 129.83 L478.90 130.30 L479.19 130.30 L479.48 130.09 L479.77 129.95 L480.06 130.17 L480.34 130.64 L480.62 130.76 L480.90 130.56 L481.18 130.64 L481.46 130.67 L481.75 130.54 L482.03 130.70 L482.31 130.62 L482.59 130.56 L482.87 131.10 L483.15 131.42 L483.43 131.18 L483.71 131.29 L484.00 131.67 L484.30 131.74 L484.59 131.76 L484.88 131.65 L485.18 131.33 L485.47 131.23 L485.75 131.21 L486.01 131.26 L486.28 131.43 L486.54 131.72 L486.81 132.02 L487.08 132.02 L487.34 131.96 L487.61 132.11 L487.87 132.24 L488.14 132.20 L488.40 132.34 L488.67 132.58 L488.93 132.70 L489.20 132.83 L489.47 133.21 L489.74 133.81 L490.02 133.97 L490.29 133.75 L490.57 133.91 L490.84 134.28 L491.12 134.18 L491.39 134.02 L491.67 134.19 L491.94 134.49 L492.22 134.70 L492.49 134.86 L492.77 134.96 L493.04 134.81 L493.32 134.75 L493.59 134.99 L493.87 135.32 L494.15 135.28 L494.43 135.31 L494.71 135.73 L494.99 135.75 L495.27 135.42 L495.55 135.31 L495.83 135.44 L496.11 135.75 L496.39 135.95 L496.67 135.93 L496.95 135.97 L497.23 136.06 L497.51 136.27 L497.79 136.75 L498.07 136.84 L498.35 136.46 L498.64 136.55 L498.93 136.87 L499.22 136.93 L499.52 136.84 L499.81 136.80 L500.11 136.94 L500.41 137.22 L500.70 137.30 L501.00 137.28 L501.29 137.35 L501.59 137.16 L501.89 137.08 L502.18 137.44 L502.48 137.62 L502.77 137.69 L503.06 138.01 L503.35 138.00 L503.64 137.60 L503.93 137.75 L504.22 138.40 L504.51 138.47 L504.80 137.97 L505.09 137.75 L505.38 137.92 L505.67 137.96 L505.96 137.99 L506.25 138.17 L506.54 138.00 L506.84 138.06 L507.13 138.32 L507.43 138.21 L507.72 138.20 L508.02 138.40 L508.31 138.33 L508.61 138.07 L508.90 137.87 L509.20 137.96 L509.48 138.34 L509.74 138.33 L509.99 138.07 L510.25 138.36 L510.51 138.79 L510.77 139.13 L511.03 139.52 L511.29 139.49 L511.56 139.15 L511.84 139.00 L512.12 139.07 L512.40 139.39 L512.68 139.96 L512.95 140.36 L513.24 139.85 L513.54 139.19 L513.84 139.36 L514.14 139.55 L514.44 139.36 L514.74 139.35 L515.04 139.60 L515.34 139.77 L515.63 139.68 L515.85 139.85 L516.07 140.20 L516.29 140.30 L516.51 140.25 L516.74 140.32 L516.96 140.73 L517.18 141.07 L517.40 141.09 L517.65 141.44 L517.92 141.80 L518.20 141.82 L518.48 141.80 L518.75 141.95 L519.03 142.46 L519.30 142.71 L519.58 142.37 L519.85 141.99 L520.13 142.28 L520.41 143.05 L520.68 143.41 L520.96 143.40 L521.23 143.35 L521.53 143.15 L521.82 143.12 L522.11 143.33 L522.40 143.30 L522.69 143.25 L522.98 143.71 L523.28 143.87 L523.57 143.38 L523.86 143.31 L524.15 143.64 L524.44 143.47 L524.73 143.39 L525.03 143.94 L525.31 144.18 L525.60 144.35 L525.88 144.75 L526.17 144.57 L526.45 144.32 L526.74 144.37 L527.02 144.33 L527.31 144.49 L527.59 144.77 L527.88 144.79 L528.17 145.03 L528.47 145.48 L528.77 145.57 L529.06 145.46 L529.36 145.41 L529.66 145.51 L529.96 145.60 L530.26 145.61 L530.56 145.58 L530.85 145.25 L531.15 144.98 L531.45 144.96 L531.75 145.20 L532.05 145.65 L532.35 145.71 L532.65 145.39 L532.95 145.24 L533.25 145.17 L533.55 144.97 L533.85 144.96 L534.15 144.98 L534.45 144.91 L534.75 145.11 L535.05 145.21 L535.35 144.99 L535.65 144.77 L535.95 145.02 L536.25 145.36 L536.55 145.32 L536.85 145.51 L537.15 145.51 L537.45 145.07 L537.75 145.02 L538.04 145.52 L538.34 145.63 L538.63 145.11 L538.82 144.91 L539.02 144.84 L539.21 144.71 L539.40 144.48 L539.70 144.30 L540.00 144.14 L540.30 144.16 L540.60 144.26 L540.89 143.99 L541.19 143.73 L541.49 143.90 L541.79 144.16 L542.09 144.28 L542.39 144.16 L542.69 144.11 L542.99 144.27 L543.08 144.61 L543.15 144.82 L543.23 145.12 L543.31 145.36 L543.39 145.54 L543.47 145.82 L543.54 145.90 L543.62 146.24 L543.70 146.73 L544.00 146.61 L544.30 147.29 L544.60 147.62 L544.90 146.79 L545.19 146.29 L545.49 146.63 L545.79 147.28 L546.09 147.53 L546.39 147.58 L546.69 147.44 L546.99 147.01 L547.28 146.54 L547.58 146.43 L547.88 147.11 L548.16 147.23 L548.38 146.98 L548.60 147.38 L548.83 146.47 L549.09 145.31 L549.34 145.67 L549.63 146.43 L549.92 147.92 L550.21 148.66 L550.51 147.58 L550.80 147.03 L551.09 147.24 L551.38 147.67 L551.65 148.33 L551.92 148.26 L552.19 148.00 L552.35 148.32 L552.44 148.25 L552.52 148.77 L552.61 149.78 L552.70 149.59 L552.78 148.87 L552.87 148.89 L552.95 149.14 L553.02 149.49 L553.10 149.31 L553.17 148.47 L553.25 148.53 L553.33 148.81 L553.40 148.50 L553.48 148.45 L553.71 148.61 L554.01 148.15 L554.30 147.40" fill="none" stroke="#1f77b4" stroke-width="2.083" stroke-linejoin="round" stroke-linecap="butt"/>
<rect class="ax" x="80.5" y="58.5" width="496" height="326"/>
<text class="t12" text-anchor="middle" transform="translate(328.15 49.10) scale(1 1.075)">Parameter values</text>
<text class="t10" text-anchor="middle" x="328.25" y="461.88">Date</text>
<text class="t10" text-anchor="middle" transform="translate(38.75 222.48) rotate(-90)">Value</text>
</svg>
</body>
</html>
